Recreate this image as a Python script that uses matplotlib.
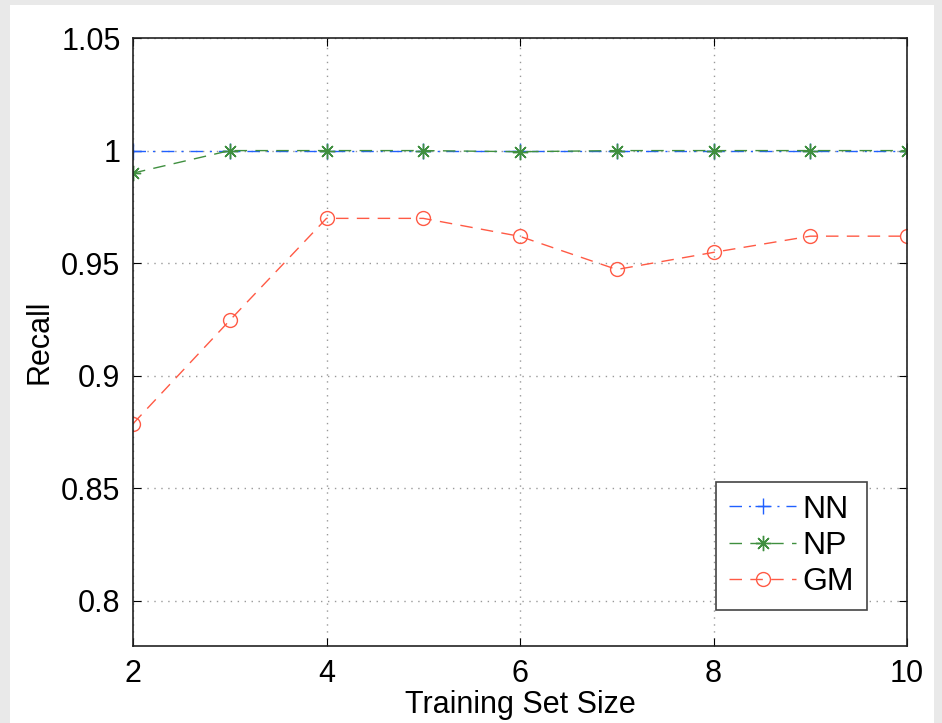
import matplotlib
matplotlib.use('Agg')
import matplotlib.pyplot as plt
from matplotlib.patches import Rectangle

plt.rcParams['font.family'] = ['Liberation Sans', 'DejaVu Sans']

train_size = [2, 3, 4, 5, 6, 7, 8, 9, 10]
recall_nn = [1.0, 1.0, 1.0, 1.0, 1.0, 1.0, 1.0, 1.0, 1.0]
recall_np = [0.990, 1.0, 1.0, 1.0, 0.9995, 1.0, 1.0, 1.0, 1.0]
recall_gm = [0.8787, 0.9246, 0.9699, 0.9699, 0.9619, 0.9472, 0.9548, 0.9620, 0.9620]

fig = plt.figure(figsize=(9.42, 7.23), dpi=100)
fig.patch.set_facecolor('#e9e9e9')
# white page area behind the plot
fig.patches.append(Rectangle((0.011, 0.0), 0.98, 0.993, transform=fig.transFigure,
                             facecolor='white', edgecolor='none', zorder=-10))

ax = fig.add_axes([133 / 942, 1 - 646 / 723, (907 - 133) / 942, (646 - 38) / 723])
ax.set_zorder(5)

ax.plot(train_size, recall_nn, color='#2060ff', linestyle='-.', marker='+',
        markersize=12, linewidth=1, dashes=(9, 5, 1.5, 5), label='NN')
ax.plot(train_size, recall_np, color='#3f8f3f', linestyle='--', marker=(8, 2, 0),
        markersize=11, linewidth=1, dashes=(9, 6), markeredgewidth=1, label='NP')
ax.plot(train_size, recall_gm, color='#ff5a45', linestyle='--', marker='o',
        markersize=10, linewidth=1, dashes=(9, 6), markerfacecolor='none',
        label='GM')

ax.set_xlim(2, 10)
ax.set_ylim(0.78, 1.05)
ax.set_xticks([2, 4, 6, 8, 10])
ax.set_yticks([0.8, 0.85, 0.9, 0.95, 1.0, 1.05])
ax.set_yticklabels(['0.8', '0.85', '0.9', '0.95', '1', '1.05'])
ax.grid(True, linestyle=(0, (1, 4)), color='#999999', linewidth=1)
ax.tick_params(direction='in', length=6, labelsize=22, top=True, right=True, pad=9)
for s in ax.spines.values():
    s.set_linewidth(1.2)
    s.set_color('#222222')

ax.set_xlabel('Training Set Size', fontsize=22, labelpad=1)
ax.set_ylabel('Recall', fontsize=22, labelpad=5)

leg = ax.legend(loc='lower right', bbox_to_anchor=(0.948, 0.059), borderaxespad=0,
                fontsize=23, fancybox=False, edgecolor='#444444', framealpha=1,
                handlelength=2.1, handletextpad=0.2, borderpad=0.4, labelspacing=0.2)
leg.get_frame().set_linewidth(1.2)

fig.savefig('out.png', dpi=100, facecolor=fig.get_facecolor())
